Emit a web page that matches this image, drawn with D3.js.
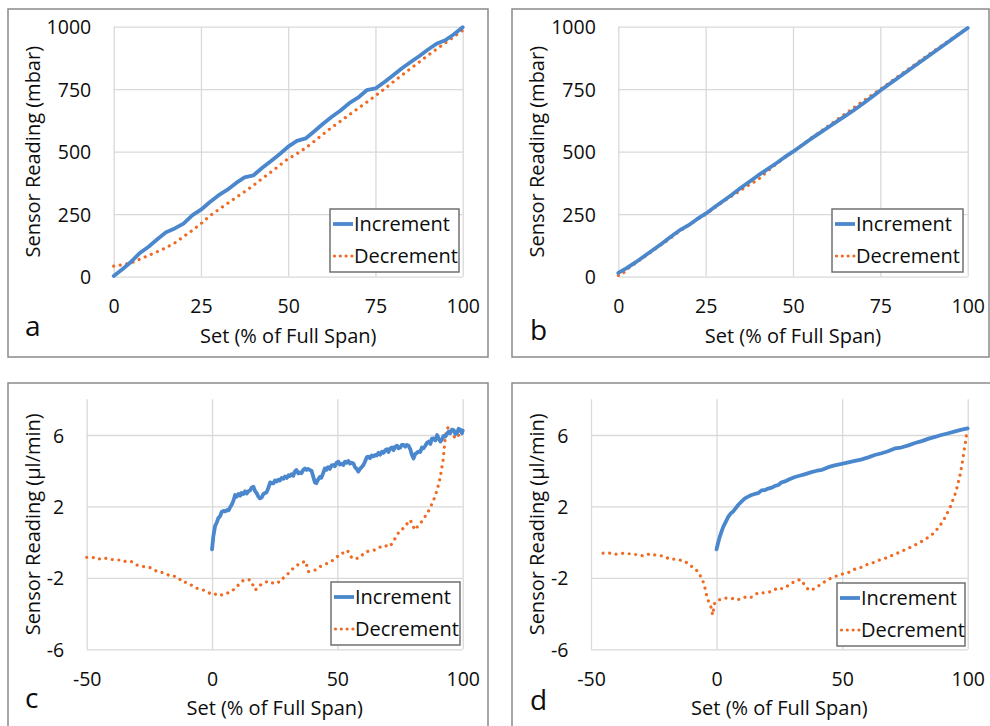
<!DOCTYPE html>
<html>
<head>
<meta charset="utf-8">
<script src="https://cdn.jsdelivr.net/npm/d3@7"></script>
<style>
  body { margin: 0; background: #fff; }
  svg { display: block; }
  text { font-family: "Open Sans", Lato, sans-serif; fill: #0d0d0d; }
</style>
</head>
<body>
<svg id="fig" width="990" height="726"></svg>
<script>
// ---- Pressure sensor, first unit: [set %, reading mbar] ----
const pressureIncA = [[0,3],[2.5,30],[5,60],[7.5,95],[10,120],[12.5,150],[15,178],[17.5,193],[20,212],[22.5,245],[25,268],[27.5,298],[30,325],[32.5,347],[35,374],[37.5,397],[40,405],[42.5,435],[45,462],[47.5,490],[50,520],[52.5,543],[55,553],[57.5,582],[60,612],[62.5,640],[65,665],[67.5,694],[70,716],[72.5,746],[75,753],[77.5,778],[80,805],[82.5,833],[85,858],[87.5,882],[90,908],[92.5,932],[95,946],[97.5,970],[100,998]];
const pressureDecA = [[0,42],[2.5,48],[5,55],[7.5,70],[10,85],[12.5,100],[15,116],[17.5,135],[20,160],[22.5,185],[25,212],[27.5,243],[30,268],[32.5,292],[35,316],[37.5,340],[40,365],[42.5,392],[45,418],[47.5,445],[50,472],[52.5,492],[55,515],[57.5,542],[60,570],[62.5,597],[65,622],[67.5,648],[70,673],[72.5,698],[75,724],[77.5,750],[80,778],[82.5,805],[85,832],[87.5,858],[90,885],[92.5,910],[95,935],[97.5,960],[100,985]];

// ---- Pressure sensor, second unit ----
const pressureIncB = [[0,15],[2.5,35],[5,58],[7.5,83],[10,108],[12.5,133],[15,160],[17.5,185],[20,205],[22.5,230],[25,252],[27.5,278],[30,303],[32.5,328],[35,355],[37.5,380],[40,405],[42.5,428],[45,452],[47.5,477],[50,500],[52.5,525],[55,550],[57.5,573],[60,597],[62.5,620],[65,643],[67.5,667],[70,692],[72.5,718],[75,745],[77.5,770],[80,795],[82.5,820],[85,845],[87.5,870],[90,895],[92.5,920],[95,945],[97.5,970],[100,995]];
const pressureDecB = [[0,5],[1,8],[2.5,30],[5,55],[7.5,80],[10,105],[12.5,130],[15,155],[17.5,182],[20,205],[22.5,228],[25,250],[27.5,275],[30,300],[32.5,323],[35,345],[37.5,368],[40,388],[42.5,420],[45,448],[47.5,475],[50,500],[52.5,526],[55,552],[57.5,577],[60,602],[62.5,627],[65,652],[67.5,677],[70,702],[72.5,726],[75,750],[77.5,775],[80,800],[82.5,825],[85,850],[87.5,875],[90,900],[92.5,923],[95,948],[97.5,972],[100,995]];

// ---- Flow sensor, first unit: [set %, reading µl/min] ----
const flowIncC = [[0,-0.4],[0.5,0.3],[1.2,0.9],[1.9,1.1],[2.5,1.35],[3.2,1.45],[3.9,1.7],[4.6,1.75],[5.2,1.72],[6,1.8],[6.6,1.78],[7.2,1.95],[7.8,2.08],[8.5,2.3],[9.2,2.64],[9.8,2.55],[10.5,2.7],[11.2,2.6],[11.8,2.75],[12.5,2.7],[13.2,2.85],[13.8,2.72],[14.5,2.85],[15.2,2.9],[15.8,3.05],[16.5,3.1],[17.2,2.85],[17.8,2.75],[18.5,2.55],[19.1,2.45],[19.8,2.5],[20.5,2.7],[21.2,2.75],[21.8,2.8],[22.5,3.05],[23.2,3.35],[23.8,3.3],[24.5,3.3],[25.1,3.45],[25.8,3.4],[26.4,3.5],[27.1,3.45],[27.8,3.6],[28.5,3.55],[29.1,3.67],[29.8,3.6],[30.5,3.75],[31.1,3.7],[31.7,3.8],[32.4,3.72],[33,3.95],[33.7,4.04],[34.4,3.85],[35,3.9],[35.7,3.86],[36.4,4.05],[37.1,4.13],[37.7,4.05],[38.4,4.1],[39,4.04],[39.7,4.0],[40.3,3.7],[41,3.35],[41.6,3.3],[42.3,3.5],[43,3.65],[43.6,3.6],[44.3,3.85],[45,4.13],[45.6,4.05],[46.3,4.2],[47,4.1],[47.7,4.3],[48.4,4.32],[49,4.25],[49.7,4.45],[50.4,4.5],[51,4.35],[51.7,4.4],[52.4,4.32],[53,4.5],[53.7,4.45],[54.4,4.55],[55,4.4],[55.7,4.45],[56.4,4.41],[57,4.2],[57.7,4.1],[58.4,3.95],[59,4.1],[59.7,4.2],[60.4,4.32],[61,4.5],[61.7,4.75],[62.4,4.79],[63,4.7],[63.7,4.85],[64.4,4.8],[65.1,4.88],[65.7,4.85],[66.4,5.0],[67.1,4.9],[67.8,5.07],[68.4,5.0],[69.1,5.15],[69.8,5.2],[70.4,5.05],[71.1,5.25],[71.8,5.3],[72.4,5.15],[73.1,5.35],[73.8,5.4],[74.4,5.25],[75.1,5.3],[75.7,5.45],[76.4,5.44],[77.1,5.35],[77.7,5.45],[78.4,5.4],[79.1,5.2],[79.7,4.9],[80.4,4.69],[81.1,4.95],[81.7,5.0],[82.4,5.07],[83.1,5.05],[83.7,5.3],[84.4,5.26],[85.1,5.4],[85.7,5.55],[86.4,5.63],[87.1,5.5],[87.7,5.8],[88.4,5.81],[89.1,5.7],[89.8,6.0],[90.4,5.8],[91.1,5.63],[91.7,5.75],[92.4,5.95],[93.1,5.91],[93.7,6.05],[94.4,6.19],[95,6.1],[95.7,6.3],[96.4,6.28],[97.1,6.05],[97.7,6.1],[98.4,6.35],[99,6.3],[99.7,6.1],[100,6.25]];
const flowDecC = [[-50,-0.85],[-48.5,-0.85],[-47.3,-0.87],[-46,-0.9],[-45.3,-0.96],[-44.3,-0.9],[-43.3,-0.87],[-42,-0.92],[-40.6,-0.96],[-39.3,-0.98],[-38,-1.0],[-36.6,-1.0],[-35.3,-1.09],[-34,-1.05],[-32.6,-1.06],[-31.3,-1.15],[-30,-1.28],[-28.7,-1.3],[-27.3,-1.37],[-26,-1.4],[-24.7,-1.43],[-23.4,-1.5],[-22,-1.65],[-20.7,-1.68],[-19.4,-1.71],[-18,-1.8],[-16.7,-1.9],[-15.4,-1.9],[-14.1,-1.93],[-13,-2.05],[-12.1,-2.21],[-10.5,-2.25],[-8.8,-2.36],[-7.8,-2.45],[-6.8,-2.55],[-5.2,-2.62],[-3.5,-2.68],[-1.8,-2.8],[0,-2.92],[1,-2.95],[1.9,-2.87],[2.9,-2.9],[3.9,-2.96],[4.9,-2.9],[5.9,-2.87],[6.9,-2.8],[7.9,-2.77],[8.9,-2.6],[9.9,-2.49],[11.2,-2.3],[12.6,-2.12],[14,-2.1],[15.3,-2.12],[16.3,-2.4],[17.3,-2.68],[18.3,-2.5],[19.3,-2.4],[20.6,-2.3],[21.9,-2.21],[22.9,-2.25],[23.9,-2.31],[24.9,-2.2],[25.9,-2.21],[26.9,-2.25],[27.8,-2.1],[28.8,-1.95],[29.8,-1.84],[31.1,-1.65],[32.4,-1.46],[33.8,-1.28],[35.1,-1.25],[36.1,-1.15],[37.1,-1.05],[37.8,-1.3],[38.5,-1.65],[39.8,-1.6],[41.1,-1.56],[42.4,-1.45],[43.8,-1.3],[45.8,-1.2],[47.1,-1.1],[48.4,-1.0],[49.7,-0.85],[51.1,-0.64],[52.4,-0.6],[53.8,-0.45],[54.8,-0.6],[55.8,-0.9],[57.1,-0.92],[58.4,-0.9],[59.7,-0.75],[61.1,-0.55],[62.7,-0.5],[64.4,-0.46],[65.7,-0.4],[67.1,-0.27],[68.4,-0.3],[69.8,-0.18],[70.8,-0.25],[71.8,-0.08],[73.4,0.3],[75.1,0.68],[76.1,0.75],[77.1,0.87],[78.1,1.1],[79.1,1.24],[80.1,0.9],[81.1,0.68],[82.1,0.9],[83.1,1.05],[84.4,1.3],[85.8,1.61],[86.8,1.85],[87.8,2.17],[88.8,2.5],[89.8,2.92],[90.5,3.3],[91.1,3.67],[91.7,4.2],[92.2,4.6],[92.7,5.35],[93.1,5.9],[93.5,6.28],[94.4,6.47],[95.1,6.3],[95.8,6.1],[96.4,5.95],[97.1,5.8],[98.1,5.95],[99.1,6.1],[100,6.2]];

// ---- Flow sensor, second unit ----
const flowIncD = [[0,-0.4],[0.6,-0.05],[1.3,0.31],[2,0.6],[2.7,0.87],[3.7,1.15],[4.7,1.43],[5.6,1.6],[6.6,1.71],[7.6,1.9],[8.6,2.08],[10,2.28],[11.3,2.45],[12.6,2.55],[13.9,2.64],[15.2,2.7],[16.6,2.75],[17.9,2.9],[19.3,2.92],[20.6,3.0],[21.9,3.05],[23.3,3.15],[24.6,3.2],[25.9,3.35],[27.2,3.4],[29,3.52],[31.2,3.65],[33,3.72],[35,3.8],[37.8,3.92],[40,4.0],[42,4.05],[44.5,4.2],[47,4.3],[49.8,4.38],[52,4.45],[55.1,4.55],[57.5,4.62],[60.4,4.75],[63,4.88],[65.7,4.98],[68,5.08],[71,5.25],[73.5,5.3],[76.4,5.42],[79,5.55],[81.7,5.66],[84.5,5.8],[87,5.9],[89.5,6.0],[92.3,6.1],[95,6.2],[97.6,6.3],[100,6.37]];
const flowDecD = [[-45.2,-0.62],[-43.8,-0.6],[-42.5,-0.62],[-41.2,-0.68],[-39.9,-0.67],[-38.5,-0.65],[-37.2,-0.62],[-35.9,-0.64],[-34.6,-0.65],[-33.2,-0.7],[-31.9,-0.69],[-30.5,-0.72],[-29.2,-0.78],[-27.9,-0.72],[-26.6,-0.65],[-25.2,-0.7],[-23.9,-0.74],[-22.5,-0.76],[-21.2,-0.78],[-19.9,-0.86],[-18.6,-0.96],[-17.2,-0.95],[-15.9,-0.96],[-14.6,-1.0],[-13.3,-1.09],[-12.3,-1.12],[-11.3,-1.18],[-10.3,-1.3],[-9.3,-1.46],[-8.3,-1.55],[-7.3,-1.65],[-6.6,-1.85],[-6,-2.03],[-5.4,-2.2],[-4.9,-2.4],[-4.4,-2.7],[-4,-2.96],[-3.5,-3.2],[-3,-3.39],[-2.5,-3.55],[-2,-3.71],[-1.6,-4.08],[-1.1,-3.7],[-0.7,-3.39],[0,-3.3],[0.7,-3.24],[2,-3.2],[3.3,-3.14],[4.6,-3.12],[6,-3.14],[7,-3.2],[8,-3.24],[9,-3.2],[10,-3.14],[11,-3.1],[12,-3.05],[13,-3.1],[14,-3.08],[15.3,-2.95],[16.6,-2.83],[18,-2.85],[19.3,-2.83],[20.6,-2.8],[21.9,-2.77],[23.3,-2.65],[24.6,-2.55],[25.6,-2.6],[26.6,-2.6],[27.8,-2.5],[29.2,-2.35],[30.5,-2.25],[31.8,-2.2],[33.2,-2.08],[34.2,-2.25],[35.2,-2.4],[36.2,-2.6],[37.2,-2.71],[38.2,-2.65],[39.2,-2.58],[40.5,-2.45],[41.8,-2.35],[43.2,-2.2],[44.5,-2.1],[45.8,-2.0],[47.2,-1.93],[48.5,-1.85],[49.8,-1.8],[51.2,-1.74],[52.5,-1.7],[53.8,-1.6],[55.2,-1.5],[56.5,-1.46],[57.8,-1.4],[59.2,-1.3],[60.5,-1.22],[61.8,-1.18],[63.1,-1.1],[64.5,-1.02],[65.8,-0.95],[67.2,-0.9],[68.5,-0.8],[69.8,-0.75],[71.2,-0.66],[72.5,-0.59],[73.8,-0.5],[75.2,-0.42],[76.5,-0.33],[77.8,-0.25],[79.1,-0.15],[80.5,-0.05],[81.8,0.05],[83.1,0.16],[84.5,0.3],[85.8,0.43],[87.1,0.59],[88.2,0.8],[89.3,1.0],[90.4,1.24],[91.4,1.5],[92.3,1.75],[93.1,1.99],[94.1,2.35],[95.1,2.73],[96.1,3.25],[97.1,3.85],[97.8,4.4],[98.4,4.97],[99,5.5],[99.5,6.0],[99.8,6.3]];

// ---- Axis ticks and labels ----
const pressureXTicks = [0, 25, 50, 75, 100];
const pressureYTicks = [0, 250, 500, 750, 1000];
const flowXTicks = [-50, 0, 50, 100];
const flowYTicks = [-6, -2, 2, 6];
const seriesNames = ["Increment", "Decrement"];
const xTitle = "Set (% of Full Span)";
const pressureYTitle = "Sensor Reading (mbar)";
const flowYTitle = "Sensor Reading (µl/min)";

const BLUE = "#4a87cc";
const ORANGE = "#ef6a22";
const GRID = "#d9d9d9";
const FRAME = "#8a8a8a";
const FONT = '"Open Sans", Lato, sans-serif';
const FS = 20;      // titles and legend
const TICK_FS = 19.5;

// plain hyphen-minus for negative tick values
const tickText = d => String(d);

const panels = [
  { letter: "a", inc: pressureIncA, dec: pressureDecA, xDom: [0, 100], yDom: [0, 1000],
    xTicks: pressureXTicks, yTicks: pressureYTicks, yTitle: pressureYTitle,
    frame: [8, 9, 488, 357], plot: [113.7, 26.7, 462.7, 276.7],
    legend: [330, 209, 129, 63], letterPos: [25, 336] },
  { letter: "b", inc: pressureIncB, dec: pressureDecB, xDom: [0, 100], yDom: [0, 1000],
    xTicks: pressureXTicks, yTicks: pressureYTicks, yTitle: pressureYTitle,
    frame: [512, 9, 989, 357], plot: [618.3, 26.7, 967.7, 276.7],
    legend: [832, 209, 131, 63], letterPos: [530, 340] },
  { letter: "c", inc: flowIncC, dec: flowDecC, xDom: [-50, 100], yDom: [-6, 8],
    xTicks: flowXTicks, yTicks: flowYTicks, yTitle: flowYTitle,
    frame: [8, 383, 488, 740], plot: [86.7, 399.3, 462.7, 649.3],
    legend: [331, 582, 129, 63], letterPos: [25, 708] },
  { letter: "d", inc: flowIncD, dec: flowDecD, xDom: [-50, 100], yDom: [-6, 8],
    xTicks: flowXTicks, yTicks: flowYTicks, yTitle: flowYTitle,
    frame: [512, 383, 995, 740], plot: [591, 399.3, 967.7, 649.3],
    legend: [837, 583, 128, 63], letterPos: [530, 710] }
];

const svg = d3.select("#fig");

panels.forEach(p => {
  const [fx0, fy0, fx1, fy1] = p.frame;
  const [px0, py0, px1, py1] = p.plot;
  const g = svg.append("g");

  // outer frame
  g.append("rect")
    .attr("x", fx0).attr("y", fy0)
    .attr("width", fx1 - fx0).attr("height", fy1 - fy0)
    .attr("fill", "none").attr("stroke", FRAME).attr("stroke-width", 1.5);

  const x = d3.scaleLinear().domain(p.xDom).range([px0, px1]);
  const y = d3.scaleLinear().domain(p.yDom).range([py1, py0]);

  // gridlines
  const gx = g.append("g").attr("transform", `translate(0,${py1})`)
    .call(d3.axisBottom(x).tickValues(p.xTicks).tickSize(-(py1 - py0)).tickFormat(""));
  gx.select(".domain").remove();
  gx.selectAll("line").attr("stroke", GRID).attr("stroke-width", 1.3);

  const gy = g.append("g").attr("transform", `translate(${px0},0)`)
    .call(d3.axisLeft(y).tickValues(p.yTicks).tickSize(-(px1 - px0)).tickFormat(""));
  gy.select(".domain").remove();
  gy.selectAll("line").attr("stroke", GRID).attr("stroke-width", 1.3);

  // tick labels
  const lx = g.append("g").attr("transform", `translate(0,${py1})`)
    .call(d3.axisBottom(x).tickValues(p.xTicks).tickSize(0).tickFormat(tickText));
  lx.select(".domain").remove();
  lx.selectAll("text").attr("y", 36.5).attr("dy", 0)
    .attr("font-size", TICK_FS).attr("fill", "#0d0d0d").style("font-family", FONT);

  const ly = g.append("g").attr("transform", `translate(${px0},0)`)
    .call(d3.axisLeft(y).tickValues(p.yTicks).tickSize(0).tickPadding(22.5).tickFormat(tickText));
  ly.select(".domain").remove();
  ly.selectAll("text").attr("dy", "0.36em")
    .attr("font-size", TICK_FS).attr("fill", "#0d0d0d").style("font-family", FONT);

  // axis titles
  g.append("text")
    .attr("x", (px0 + px1) / 2).attr("y", py1 + 66)
    .attr("text-anchor", "middle").attr("font-size", FS)
    .text(xTitle);
  g.append("text")
    .attr("transform", `translate(${fx0 + 31.5},${(py0 + py1) / 2}) rotate(-90)`)
    .attr("text-anchor", "middle").attr("font-size", FS)
    .text(p.yTitle);

  // panel letter
  g.append("text")
    .attr("x", p.letterPos[0]).attr("y", p.letterPos[1])
    .attr("font-size", 28)
    .text(p.letter);

  // series
  const line = d3.line().x(d => x(d[0])).y(d => y(d[1]));
  g.append("path").datum(p.dec)
    .attr("d", line).attr("fill", "none")
    .attr("stroke", ORANGE).attr("stroke-width", 3.2)
    .attr("stroke-linecap", "round").attr("stroke-dasharray", "0.01 6.6");
  g.append("path").datum(p.inc)
    .attr("d", line).attr("fill", "none")
    .attr("stroke", BLUE).attr("stroke-width", 3.8)
    .attr("stroke-linejoin", "round").attr("stroke-linecap", "round");

  // legend
  const [lx0, ly0, lw, lh] = p.legend;
  const lg = g.append("g").attr("transform", `translate(${lx0},${ly0})`);
  lg.append("rect").attr("width", lw).attr("height", lh)
    .attr("fill", "#fff").attr("stroke", "#707070").attr("stroke-width", 1.5);
  lg.append("line").attr("x1", 3).attr("x2", 23).attr("y1", 15).attr("y2", 15)
    .attr("stroke", BLUE).attr("stroke-width", 3.8);
  lg.append("line").attr("x1", 4.5).attr("x2", 22).attr("y1", 47).attr("y2", 47)
    .attr("stroke", ORANGE).attr("stroke-width", 3.2)
    .attr("stroke-linecap", "round").attr("stroke-dasharray", "0.01 5.8");
  seriesNames.forEach((name, i) => {
    lg.append("text").attr("x", 24).attr("y", 22 + i * 32)
      .attr("font-size", FS).text(name);
  });
});
</script>
</body>
</html>
